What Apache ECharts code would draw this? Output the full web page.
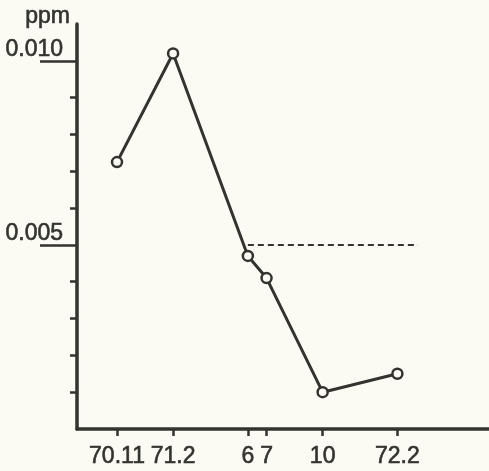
<!DOCTYPE html>
<html>
<head>
<meta charset="utf-8">
<script src="https://cdn.jsdelivr.net/npm/echarts@6/dist/echarts.min.js"></script>
<style>
  html, body { margin: 0; padding: 0; background: #fbfaf3; }
  #chart { width: 489px; height: 471px; }
</style>
</head>
<body>
<div id="chart"></div>
<script>
// months counted from 1970.11
var months = [0, 3, 7, 8, 11, 15];
var monthLabels = ['70.11', '71.2', '6', '7', '10', '72.2'];
var ppm = [0.00725, 0.0102, 0.0047, 0.0041, 0.0010, 0.0015];
var minorTicks = [0.001, 0.002, 0.003, 0.004, 0.006, 0.007, 0.008, 0.009];
var majorTicks = [0.005, 0.010];
// dashed reference level
var limitValue = 0.005;
var limitFrom = 7, limitTo = 16.1;

var ink = '#33332f';
var font = '"Liberation Sans", Arial, sans-serif';
var textStyle = {
  color: ink,
  fontFamily: font,
  fontSize: 23,
  textBorderColor: ink,
  textBorderWidth: 0.6
};

var points = [];
for (var i = 0; i < months.length; i++) {
  points.push([months[i], ppm[i]]);
}

var chart = echarts.init(document.getElementById('chart'));
chart.setOption({
  animation: false,
  backgroundColor: '#fbfaf3',
  grid: { left: 77, right: 0, top: 24, bottom: 42 },
  xAxis: {
    type: 'value',
    min: -2.14,
    max: 19.9,
    splitLine: { show: false },
    axisLine: { show: true, onZero: false, lineStyle: { color: ink, width: 3.5 } },
    axisTick: {
      show: true,
      length: 7,
      customValues: months,
      lineStyle: { color: ink, width: 2.5 }
    },
    axisLabel: Object.assign({
      customValues: months,
      margin: 16,
      formatter: function (v) {
        var k = months.indexOf(v);
        return k < 0 ? '' : monthLabels[k];
      }
    }, textStyle)
  },
  yAxis: [{
    type: 'value',
    min: 0,
    max: 0.011,
    interval: 0.001,
    name: 'ppm',
    nameLocation: 'end',
    nameGap: -4,
    nameTextStyle: Object.assign({
      align: 'right',
      verticalAlign: 'bottom',
      padding: [0, 7, 0, 0]
    }, textStyle),
    splitLine: { show: false },
    axisLine: { show: true, onZero: false, lineStyle: { color: ink, width: 3.5 } },
    axisTick: {
      show: true,
      length: 7,
      customValues: minorTicks,
      lineStyle: { color: ink, width: 2.5 }
    },
    axisLabel: { show: false }
  }, {
    type: 'value',
    min: 0,
    max: 0.011,
    interval: 0.001,
    position: 'left',
    splitLine: { show: false },
    axisLine: { show: false, onZero: false },
    axisTick: {
      show: true,
      length: 37,
      customValues: majorTicks,
      lineStyle: { color: ink, width: 2.5 }
    },
    axisLabel: Object.assign({
      customValues: majorTicks,
      margin: 14,
      verticalAlign: 'bottom',
      formatter: function (v) { return v.toFixed(3); }
    }, textStyle)
  }],
  series: [{
    type: 'line',
    data: points,
    symbol: 'circle',
    symbolSize: 10,
    lineStyle: { color: ink, width: 3 },
    itemStyle: { color: '#fbfaf3', borderColor: ink, borderWidth: 2.5 },
    z: 3,
    markLine: {
      silent: true,
      symbol: 'none',
      label: { show: false },
      lineStyle: { color: ink, width: 2.2, type: [6, 4] },
      data: [[{ coord: [limitFrom, limitValue] }, { coord: [limitTo, limitValue] }]]
    }
  }]
});
</script>
</body>
</html>
